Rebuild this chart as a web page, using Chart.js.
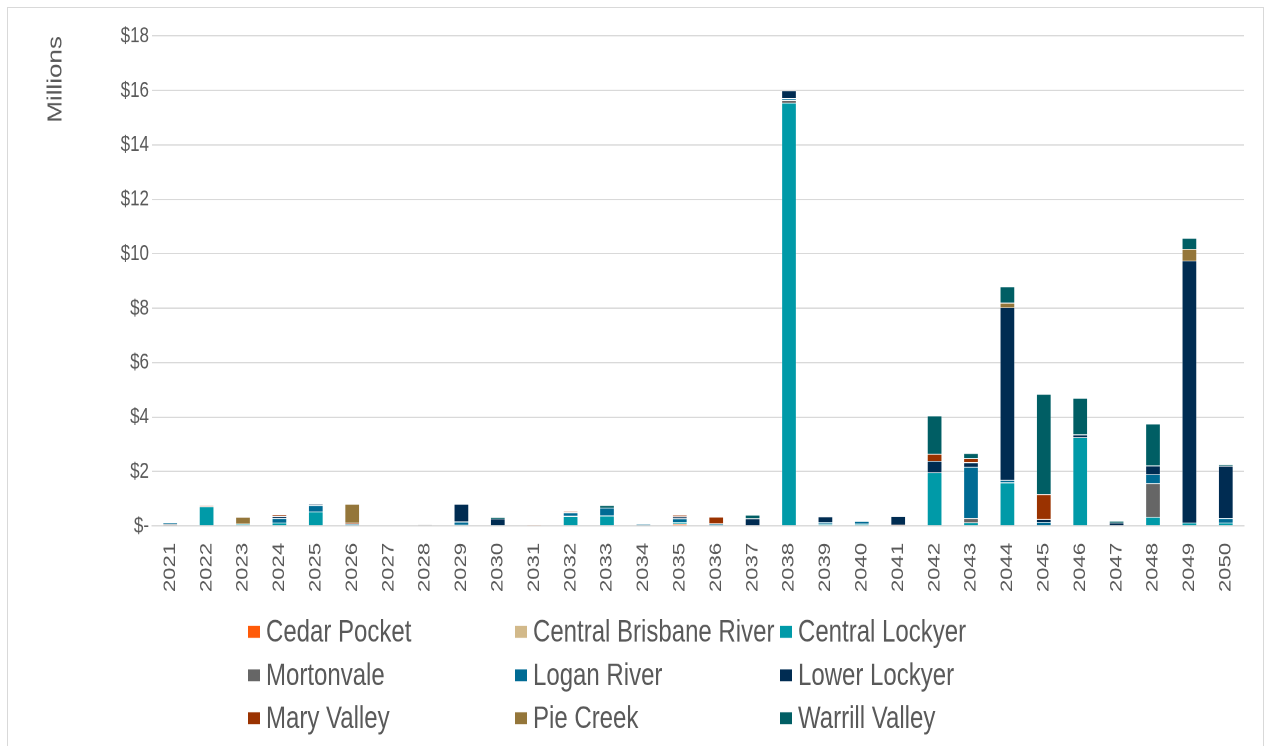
<!DOCTYPE html>
<html>
<head>
<meta charset="utf-8">
<script src="https://cdn.jsdelivr.net/npm/chart.js@4/dist/chart.umd.min.js"></script>
<style>
  html, body { margin: 0; padding: 0; background: #ffffff; overflow: hidden; }
  #frame { position: absolute; left: 7px; top: 7px; width: 1257px; height: 800px; border: 1px solid #d9d9d9; box-sizing: border-box; }
  /* the chart is drawn on a shorter canvas and stretched vertically to fill the page */
  #wrap { position: absolute; left: 0; top: 0; width: 1271px; height: 574px; transform: scaleY(1.3); transform-origin: 0 0; }
</style>
</head>
<body>
<div id="frame"></div>
<div id="wrap"><canvas id="chart" width="1271" height="574"></canvas></div>
<script>
// Annual capital spend by scheme, $ millions
const years = ['2021','2022','2023','2024','2025','2026','2027','2028','2029','2030',
               '2031','2032','2033','2034','2035','2036','2037','2038','2039','2040',
               '2041','2042','2043','2044','2045','2046','2047','2048','2049','2050'];

const cedarPocket     = [0,0,0,0,0,0,0,0,0,0, 0.03,0,0,0,0.08,0,0,0,0,0, 0.04,0,0,0,0,0.02,0,0,0,0];
const centralBrisbane = [0,0,0.03,0,0,0,0,0,0,0, 0,0,0,0,0,0,0,0,0,0, 0,0,0,0,0,0,0,0,0,0];
const centralLockyer  = [0,0.72,0.05,0.12,0.53,0.03,0,0,0.04,0, 0,0.37,0.38,0.02,0.07,0.03,0,15.55,0.08,0.08, 0,1.97,0.13,1.6,0.03,3.24,0.02,0.33,0.12,0.12];
const mortonvale      = [0.07,0,0,0,0,0,0,0.04,0,0, 0,0,0,0,0,0,0,0.1,0,0, 0,0,0.16,0,0,0,0,1.24,0,0];
const loganRiver      = [0.05,0,0,0.17,0.24,0.05,0,0,0.12,0.03, 0,0.13,0.29,0.05,0.13,0.06,0,0.07,0.07,0.1, 0,0,1.88,0.09,0.12,0,0,0.33,0,0.17];
const lowerLockyer    = [0,0,0,0.07,0.02,0,0,0,0.65,0.24, 0,0,0,0,0.07,0,0.28,0.28,0.2,0, 0.33,0.42,0.17,6.34,0.1,0.1,0.1,0.32,9.63,1.92];
const maryValley      = [0,0.03,0,0.06,0,0.04,0,0,0,0, 0,0.04,0,0,0.06,0.25,0,0,0,0, 0,0.26,0.15,0,0.92,0,0,0,0,0];
const pieCreek        = [0,0,0.25,0,0,0.69,0,0,0,0, 0,0,0,0,0,0,0,0,0,0, 0,0,0,0.17,0,0,0,0,0.43,0];
const warrillValley   = [0,0,0,0,0,0,0,0,0,0.05, 0,0,0.1,0.01,0,0,0.13,0,0,0, 0,1.41,0.19,0.6,3.68,1.34,0.07,1.54,0.4,0.06];

const yTicks = [0, 2, 4, 6, 8, 10, 12, 14, 16, 18];

const seriesNames = ['Cedar Pocket','Central Brisbane River','Central Lockyer','Mortonvale',
                     'Logan River','Lower Lockyer','Mary Valley','Pie Creek','Warrill Valley'];
const seriesValues = [cedarPocket, centralBrisbane, centralLockyer, mortonvale,
                      loganRiver, lowerLockyer, maryValley, pieCreek, warrillValley];
const seriesColors = ['#ff5a08','#d2b98a','#009aa8','#666666',
                      '#006b94','#002c52','#9a3200','#94763a','#005e64'];

const FONT = '"Liberation Sans", Arial, sans-serif';
const TEXT = '#595959';

// Legend laid out as a 3 x 3 grid under the plot
const gridLegend = {
  id: 'gridLegend',
  afterDraw(chart) {
    const ctx = chart.ctx;
    const colX = [248, 515, 780];
    const rowY = [486, 519.5, 552.5];
    ctx.save();
    ctx.font = '24px ' + FONT;
    ctx.textBaseline = 'middle';
    ctx.textAlign = 'left';
    chart.data.datasets.forEach((ds, i) => {
      const x = colX[i % 3];
      const y = rowY[Math.floor(i / 3)];
      ctx.fillStyle = ds.backgroundColor;
      ctx.fillRect(x, y - 4.6, 12, 9.2);
      ctx.fillStyle = TEXT;
      ctx.fillText(ds.label, x + 18, y + 1);
    });
    ctx.restore();
  }
};

new Chart(document.getElementById('chart'), {
  type: 'bar',
  data: {
    labels: years,
    datasets: seriesNames.map((name, i) => ({
      label: name,
      data: seriesValues[i],
      backgroundColor: seriesColors[i],
      borderColor: 'rgba(255,255,255,0.35)',
      borderWidth: 0.6,
      categoryPercentage: 1.0,
      barPercentage: 0.41
    }))
  },
  options: {
    responsive: false,
    animation: false,
    devicePixelRatio: 2,
    layout: { padding: { left: 0, right: 27, top: 27.7, bottom: 0 } },
    plugins: {
      legend: { display: false },
      tooltip: { enabled: false }
    },
    scales: {
      x: {
        stacked: true,
        grid: { display: false, drawTicks: false },
        border: { display: true, color: '#d9d9d9', width: 1 },
        ticks: {
          color: TEXT,
          font: { family: FONT, size: 17 },
          minRotation: 90,
          maxRotation: 90,
          padding: 13,
          autoSkip: false
        },
        afterFit(scale) { scale.height = 169.4; }
      },
      y: {
        stacked: true,
        min: 0,
        max: 18,
        afterBuildTicks(scale) { scale.ticks = yTicks.map(v => ({ value: v })); },
        grid: { color: '#d9d9d9', lineWidth: 1, drawTicks: false },
        border: { display: false },
        ticks: {
          color: TEXT,
          font: { family: FONT, size: 17 },
          padding: 3,
          callback: v => v === 0 ? '$-' : '$' + v
        },
        title: {
          display: true,
          text: 'Millions',
          align: 'end',
          color: TEXT,
          font: { family: FONT, size: 20 },
          padding: { top: 44, bottom: 0 }
        },
        afterFit(scale) { scale.width = 152; }
      }
    }
  },
  plugins: [gridLegend]
});
</script>
</body>
</html>
